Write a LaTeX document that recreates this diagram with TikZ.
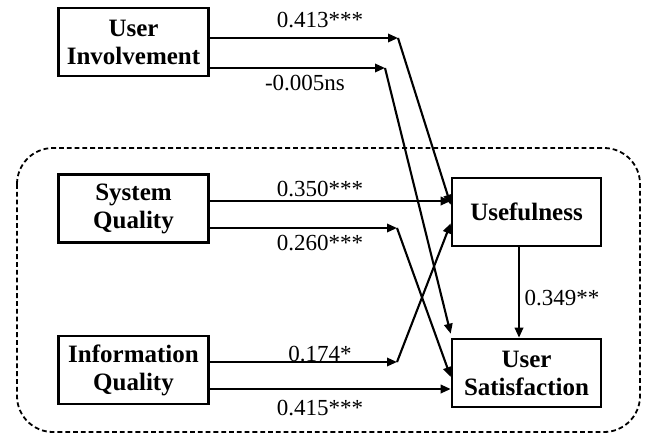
\documentclass[tikz,border=0pt]{standalone}
\usepackage{fontspec}
\setmainfont{Liberation Serif}
\usetikzlibrary{arrows.meta}

\tikzset{
  box/.style={draw, line width=1.3pt, minimum width=75pt, minimum height=34pt,
    inner sep=0pt, align=center, font=\fontsize{12.5}{14}\selectfont\bfseries},
  lbl/.style={inner sep=0pt, font=\fontsize{11.5}{13}\selectfont},
  arr/.style={line width=1.05pt, -{Triangle[length=5pt,width=4.2pt]}}
}

\begin{document}
\begin{tikzpicture}[x=0.5pt, y=-0.5pt]
    \useasboundingbox (0,0) rectangle (647,440);

    % outer frame
    \draw[line width=0.9pt, dash pattern=on 2.4pt off 1.5pt, rounded corners=18pt] (17,148) rectangle (640,432);

    \node (ui) at (133.5,42) [box] {User\\Involvement};
    \node (sq) at (133.5,208.5) [box] {System\\Quality};
    \node (iq) at (133.5,370) [box] {Information\\Quality};
    \node (us) at (526.5,212) [box, minimum width=74.5pt] {Usefulness};
    \node (sat) at (526.5,373) [box, minimum width=74.5pt] {User\\Satisfaction};

    % bend points
    \coordinate (k1) at (398,38);
    \coordinate (k2) at (385,68);
    \coordinate (k3) at (397,228);
    \coordinate (k4) at (397,362);
    \coordinate (h1) at (0,201);
    \coordinate (h2) at (0,389);
    \coordinate (v1) at (519,0);

    \draw [arr] (ui.east |- k1) -- (k1);
    \draw [arr] (k1) -- ([yshift=-14]us.north west);
    \draw [arr] (ui.east |- k2) -- (k2);
    \draw [arr] (k2) -- ([yshift=2]sat.north west);

    \draw [arr] (sq.east |- h1) -- (us.west |- h1);
    \draw [arr] (sq.east |- k3) -- (k3);
    \draw [arr] (k3) -- ([yshift=-2]sat.west);

    \draw [arr] (iq.east |- k4) -- (k4);
    \draw [arr] (k4) -- ([yshift=12]us.south west);
    \draw [arr] (iq.east |- h2) -- (sat.west |- h2);

    \draw [arr] (us.south -| v1) -- (sat.north -| v1);

    \node (l1) at (320,20) [lbl] {0.413***};
    \node (l2) at (305,83) [lbl] {-0.005ns};
    \node (l3) at (320,189) [lbl] {0.350***};
    \node (l4) at (320,243) [lbl] {0.260***};
    \node (l5) at (320,354) [lbl] {0.174*};
    \node (l6) at (320,408) [lbl] {0.415***};
    \node (l7) at (562,298) [lbl] {0.349**};

\end{tikzpicture}
\end{document}
